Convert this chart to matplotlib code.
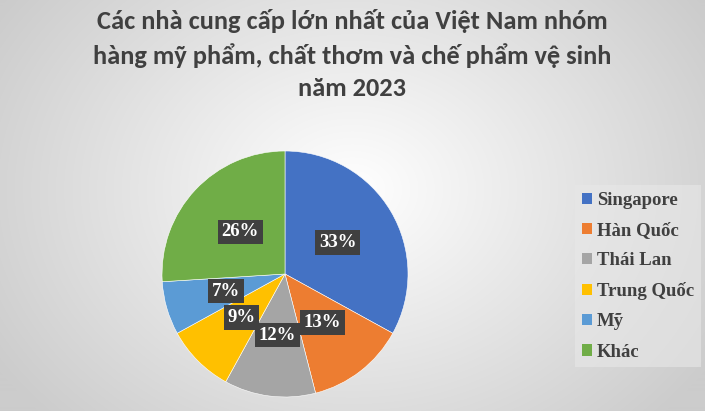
import matplotlib
matplotlib.use("Agg")
import matplotlib.pyplot as plt
import numpy as np
from matplotlib.patches import Patch

title = "Các nhà cung cấp lớn nhất của Việt Nam nhóm\nhàng mỹ phẩm, chất thơm và chế phẩm vệ sinh\nnăm 2023"
categories = ["Singapore", "Hàn Quốc", "Thái Lan", "Trung Quốc", "Mỹ", "Khác"]
shares = [33, 13, 12, 9, 7, 26]
colors = ["#4472C4", "#ED7D31", "#A5A5A5", "#FFC000", "#5B9BD5", "#70AD47"]

W, H = 705, 411
fig = plt.figure(figsize=(W/100, H/100), dpi=100)

# radial gradient background
bg = fig.add_axes([0, 0, 1, 1])
yy, xx = np.mgrid[0:H, 0:W]
cx, cy = 352, 190
d = np.sqrt(((xx - cx) / 420.0) ** 2 + ((yy - cy) / 330.0) ** 2)
d = np.clip(d, 0, 1)
val = 1.0 - 0.20 * d
img = np.dstack([val, val, val])
bg.imshow(img, aspect="auto", extent=[0, W, H, 0])
bg.set_axis_off()

fig.text(0.5, 1 - 9/H, title, ha="center", va="top", fontsize=19,
         fontweight="bold", family=["Carlito", "Lato"], color="#404040", linespacing=1.47)

R = 123
pcx, pcy = 285, 274
ax = fig.add_axes([(pcx - R)/W, 1 - (pcy + R)/H, 2*R/W, 2*R/H])
wedges, texts = ax.pie(shares, colors=colors, startangle=90, counterclock=False,
                       radius=1.0, wedgeprops=dict(linewidth=0.4, edgecolor="white"))
for w, s in zip(wedges, shares):
    ang = np.deg2rad((w.theta1 + w.theta2) / 2)
    x, y = 0.5 * np.cos(ang), 0.5 * np.sin(ang)
    ax.text(x, y, f"{s}%", ha="center", va="center", fontsize=13.5, fontweight="bold",
            family="Liberation Serif", color="white",
            bbox=dict(boxstyle="square,pad=0.2", fc="#404040", ec="none"))
ax.set_xlim(-1, 1)
ax.set_ylim(-1, 1)
ax.set_aspect("equal")
ax.set_axis_off()

handles = [Patch(facecolor=c, edgecolor="none") for c in colors]
leg = fig.legend(handles, categories, loc="upper left",
                 bbox_to_anchor=(566/W, 1 - 176/H),
                 prop=dict(family="Liberation Serif", weight="bold", size=13.5),
                 frameon=True, fancybox=False, handlelength=0.55, handleheight=0.55,
                 handletextpad=0.25, labelspacing=0.70, borderpad=0.35)
leg.get_frame().set_facecolor("#e8e8e8")
leg.get_frame().set_edgecolor("none")
leg.get_frame().set_alpha(0.6)
for t in leg.get_texts():
    t.set_color("#404040")

fig.savefig("out.png", dpi=100)
